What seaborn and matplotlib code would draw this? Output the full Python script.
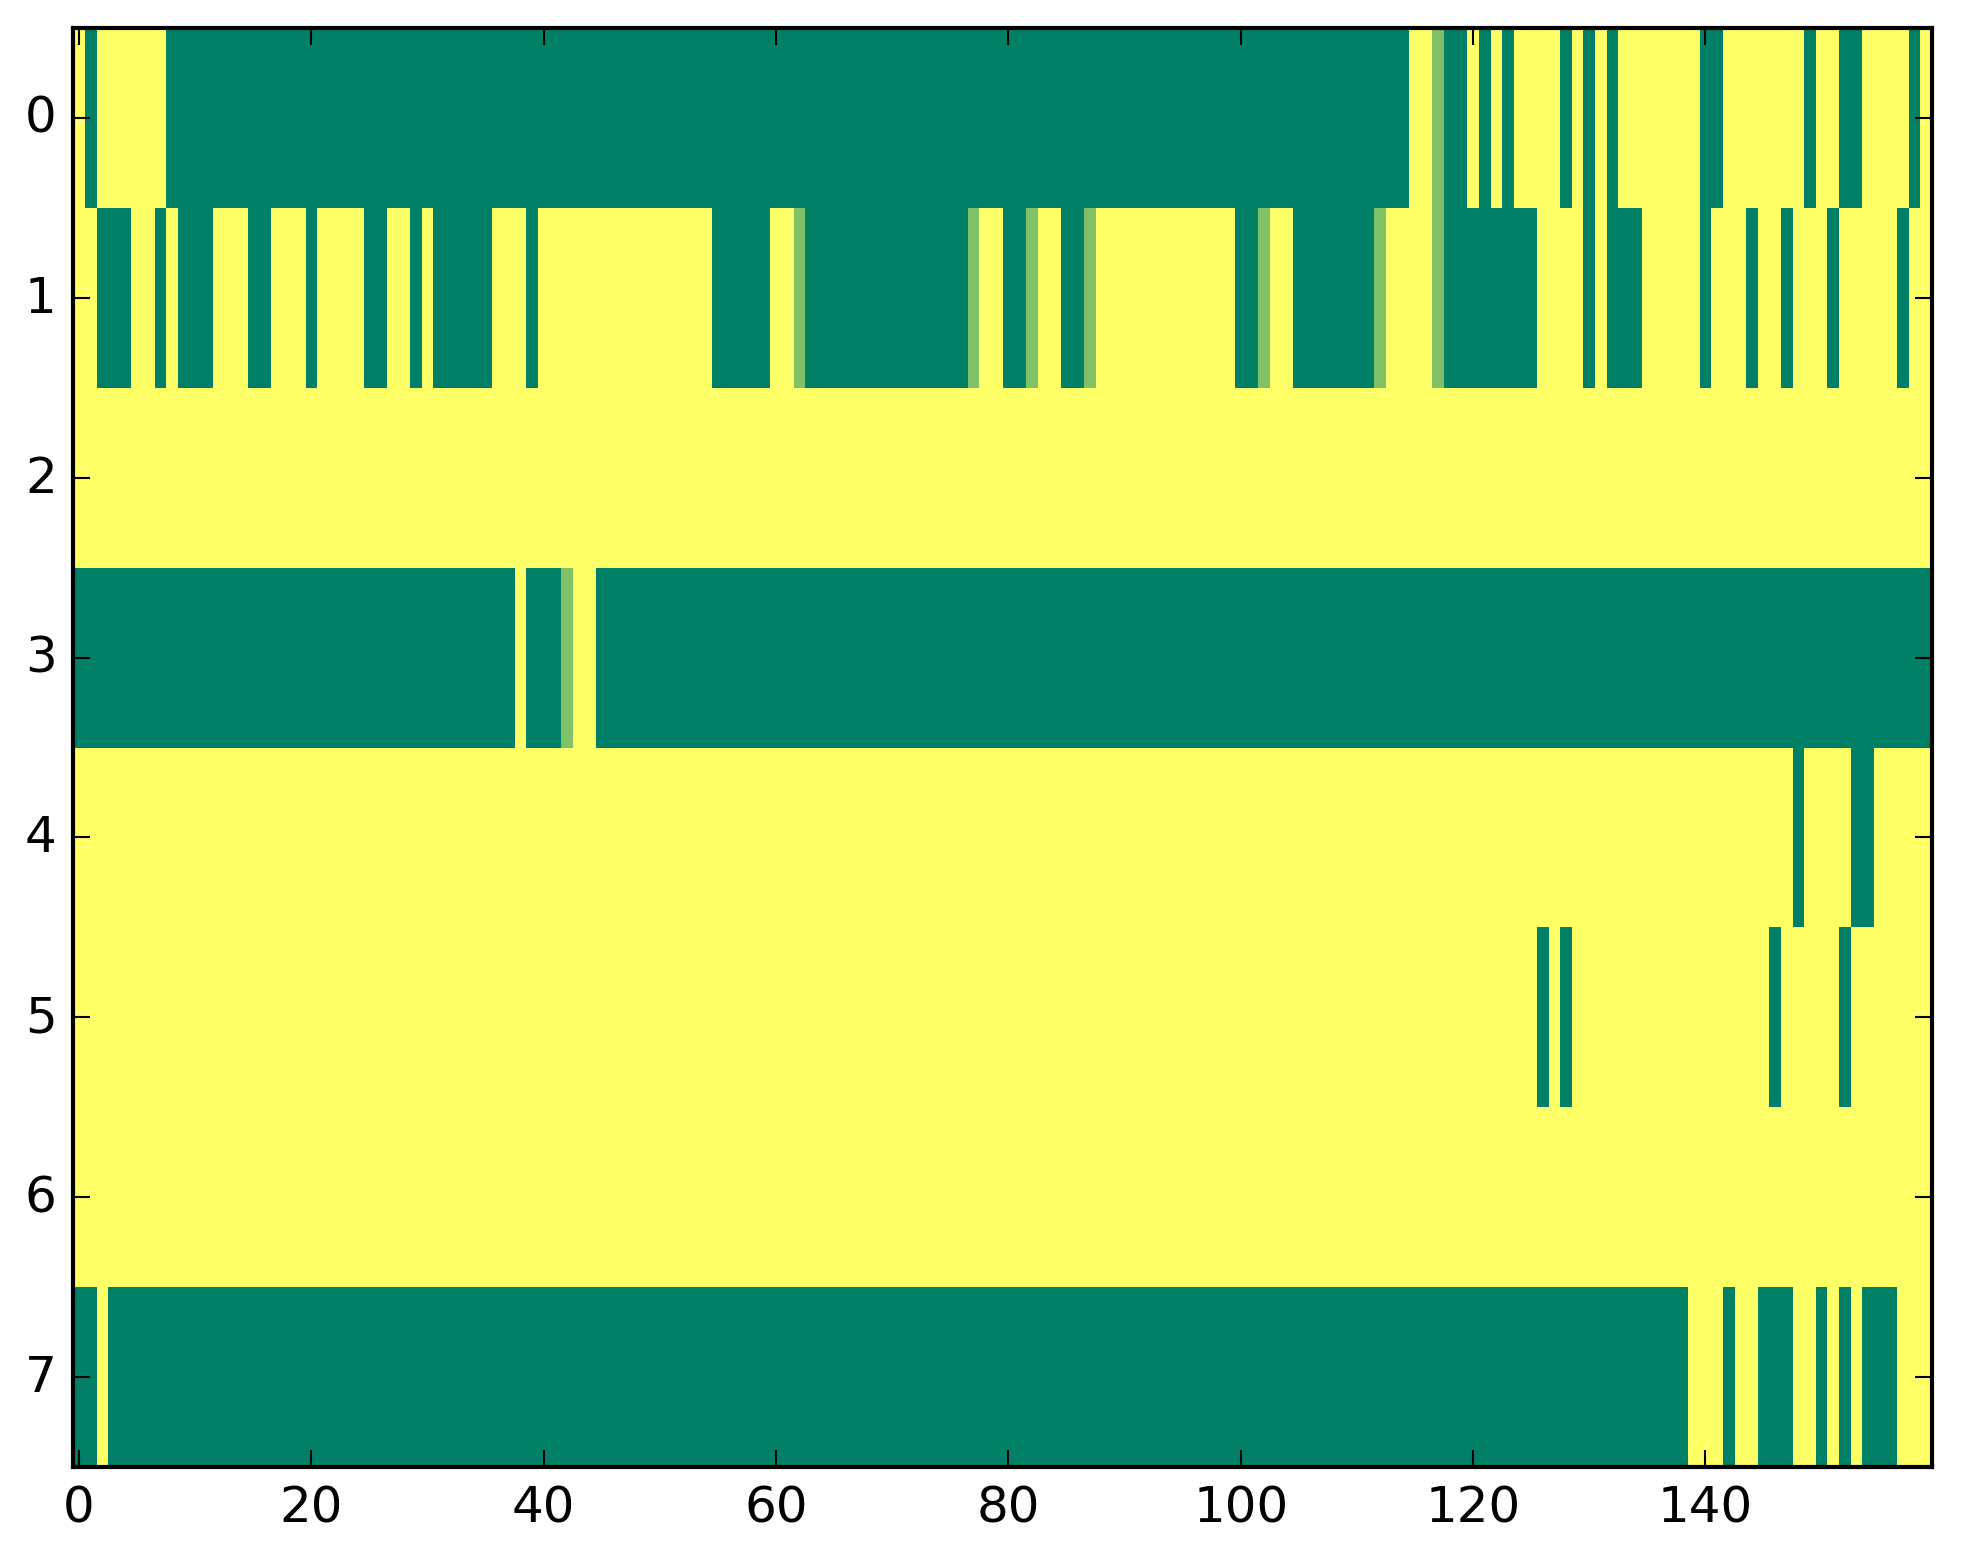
import numpy as np
import matplotlib
matplotlib.use("Agg")
import matplotlib.pyplot as plt
import seaborn as sns

# run-length encoded rows: (value, number of columns)
row0 = [(1, 1), (0, 1), (1, 6), (0, 107), (1, 2), (0.5, 1), (0, 2), (1, 1), (0, 1),
        (1, 1), (0, 1), (1, 4), (0, 1), (1, 1), (0, 1), (1, 1), (0, 1), (1, 7),
        (0, 2), (1, 7), (0, 1), (1, 2), (0, 2), (1, 4), (0, 1), (1, 1)]
row1 = [(1, 2), (0, 3), (1, 2), (0, 1), (1, 1), (0, 3), (1, 3), (0, 2), (1, 3),
        (0, 1), (1, 4), (0, 2), (1, 2), (0, 1), (1, 1), (0, 5), (1, 3), (0, 1),
        (1, 15), (0, 5), (1, 2), (0.5, 1), (0, 14), (0.5, 1), (1, 2), (0, 2),
        (0.5, 1), (1, 2), (0, 2), (0.5, 1), (1, 12), (0, 2), (0.5, 1), (1, 2),
        (0, 7), (0.5, 1), (1, 4), (0.5, 1), (0, 8), (1, 4), (0, 1), (1, 1),
        (0, 3), (1, 5), (0, 1), (1, 3), (0, 1), (1, 2), (0, 1), (1, 3), (0, 1),
        (1, 5), (0, 1), (1, 2)]
row2 = [(1, 160)]
row3 = [(0, 38), (1, 1), (0, 3), (0.5, 1), (1, 2), (0, 115)]
row4 = [(1, 148), (0, 1), (1, 4), (0, 2), (1, 5)]
row5 = [(1, 126), (0, 1), (1, 1), (0, 1), (1, 17), (0, 1), (1, 5), (0, 1), (1, 7)]
row6 = [(1, 160)]
row7 = [(0, 2), (1, 1), (0, 136), (1, 3), (0, 1), (1, 2), (0, 3), (1, 2), (0, 1),
        (1, 1), (0, 1), (1, 1), (0, 3), (1, 3)]
rows = [row0, row1, row2, row3, row4, row5, row6, row7]

x_ticks = [0, 20, 40, 60, 80, 100, 120, 140]
y_ticks = [0, 1, 2, 3, 4, 5, 6, 7]


def expand(runs):
    return np.concatenate([np.full(n, v, dtype=float) for v, n in runs])


matrix = np.vstack([expand(r) for r in rows])

plt.rcParams['font.family'] = ['DejaVu Sans']
plt.rcParams['font.size'] = 12

fig = plt.figure(figsize=(1963 / 300, 1564 / 300), dpi=300)
ax = fig.add_axes([73.3 / 1963, 1 - 1468 / 1564,
                   (1932 - 73.3) / 1963, (1468 - 29) / 1564])

sns.heatmap(matrix, cmap="summer", vmin=0, vmax=1, cbar=False,
            linewidths=0, ax=ax)

for s in ax.spines.values():
    s.set_visible(True)
    s.set_linewidth(1.0)
    s.set_color("black")

ax.set_xticks(np.array(x_ticks) + 0.5)
ax.set_xticklabels([str(t) for t in x_ticks], rotation=0)
ax.set_yticks(np.array(y_ticks) + 0.5)
ax.set_yticklabels([str(t) for t in y_ticks], rotation=0, va="center")
ax.tick_params(direction="in", top=True, right=True, length=4, width=0.5,
               labelsize=12, pad=4, color="black")

fig.savefig("out.png", dpi=300)
